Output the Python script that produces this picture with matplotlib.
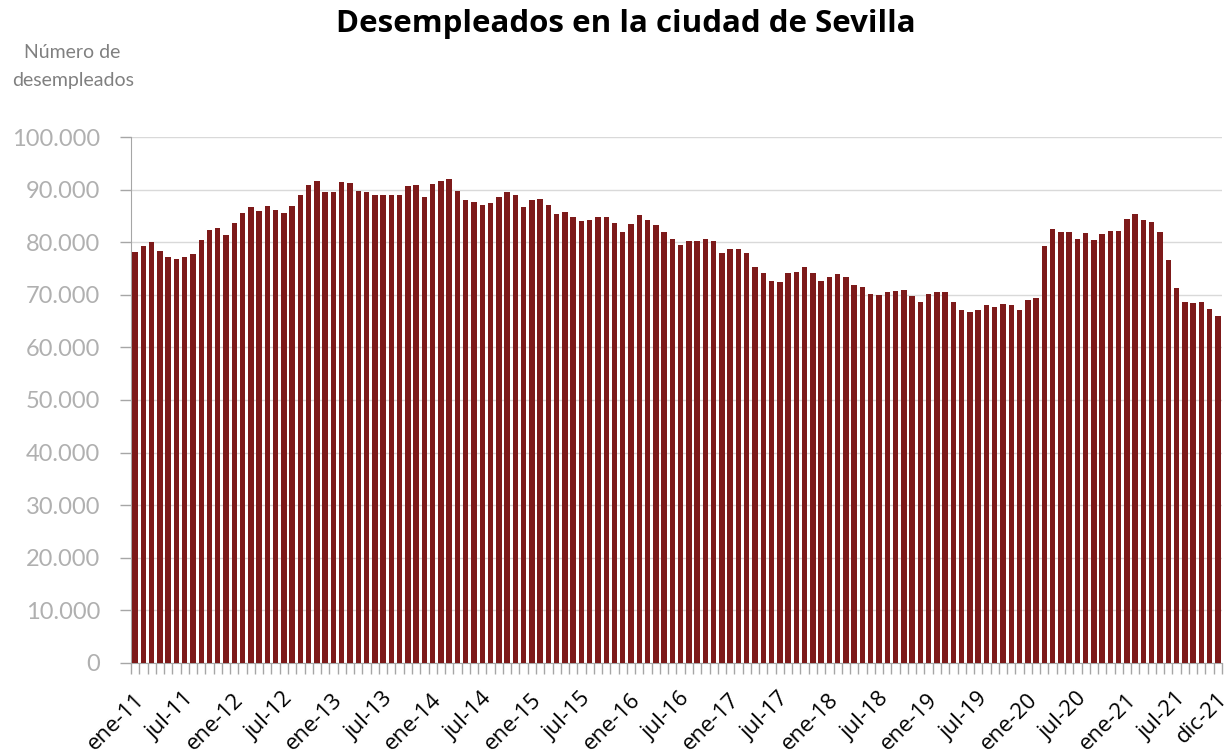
import numpy as np
import matplotlib.pyplot as plt
import matplotlib.transforms as mtransforms
from matplotlib.ticker import FuncFormatter

# Desempleados mensuales, ene-2011 a dic-2021 (miles)
anios = list(range(2011, 2022))
meses = ["ene", "feb", "mar", "abr", "may", "jun", "jul", "ago", "sep", "oct", "nov", "dic"]

desempleados_miles = [
    # 2011
    78.1, 79.3, 80.0, 78.3, 77.1, 76.8, 77.1, 77.8, 80.5, 82.4, 82.7, 81.3,
    # 2012
    83.7, 85.6, 86.6, 85.9, 86.8, 86.1, 85.6, 86.8, 89.0, 90.8, 91.7, 89.5,
    # 2013
    89.5, 91.5, 91.2, 89.8, 89.5, 89.0, 88.9, 88.9, 88.9, 90.6, 90.8, 88.5,
    # 2014
    91.0, 91.7, 92.0, 89.8, 88.1, 87.6, 87.1, 87.4, 88.5, 89.5, 89.0, 86.6,
    # 2015
    88.1, 88.3, 87.1, 85.4, 85.8, 84.7, 84.0, 84.2, 84.7, 84.7, 83.7, 82.0,
    # 2016
    83.5, 85.2, 84.2, 83.2, 82.0, 80.7, 79.5, 80.3, 80.3, 80.7, 80.3, 77.9,
    # 2017
    78.8, 78.8, 77.9, 75.2, 74.1, 72.7, 72.4, 74.1, 74.3, 75.2, 74.1, 72.7,
    # 2018
    73.4, 73.9, 73.4, 71.9, 71.4, 70.2, 70.0, 70.5, 70.7, 71.0, 69.8, 68.6,
    # 2019
    70.2, 70.5, 70.5, 68.6, 67.1, 66.8, 67.1, 68.1, 67.6, 68.3, 68.1, 67.1,
    # 2020
    69.0, 69.3, 79.3, 82.5, 82.0, 82.0, 80.7, 81.8, 80.5, 81.5, 82.2, 82.2,
    # 2021
    84.4, 85.4, 84.2, 83.9, 82.0, 76.6, 71.2, 68.7, 68.5, 68.7, 67.3, 66.0,
]
valores = np.array(desempleados_miles) * 1000

etiquetas = [f"{m}-{str(a)[2:]}" for a in anios for m in meses]

color_barra = "#7d1a1a"
gris = "#a6a6a6"

fig = plt.figure(figsize=(12.31, 7.54), dpi=100)
ax = fig.add_axes([0.1064, 0.1207, 0.8863, 0.6976])

x = np.arange(len(valores))
ax.bar(x, valores, width=0.66, color=color_barra, zorder=3)

ax.set_ylim(0, 100000)
ax.set_xlim(-0.5, len(valores) - 0.5)
ax.set_yticks(np.arange(0, 100001, 10000))
ax.yaxis.set_major_formatter(FuncFormatter(lambda v, p: f"{int(v):,}".replace(",", ".")))
ax.tick_params(axis="y", colors=gris, labelsize=17, length=8, width=1, pad=14)
for t in ax.get_yticklabels():
    t.set_family("Lato")
    t.set_color("#b0b0b0")
ax.grid(axis="y", color="#d9d9d9", linewidth=1, zorder=0)

# etiquetas cada 6 meses y la ultima
idx = list(range(0, len(valores), 6)) + [len(valores) - 1]
ax.set_xticks(idx)
ax.set_xticklabels([etiquetas[i] for i in idx], rotation=45, ha="right",
                   va="center", rotation_mode="anchor", fontsize=16,
                   family="Open Sans")
ax.tick_params(axis="x", length=0, pad=24)
desplaza = mtransforms.ScaledTranslation(6 / 100, 0, fig.dpi_scale_trans)
for t in ax.get_xticklabels():
    t.set_transform(t.get_transform() + desplaza)
ax.set_xticks(np.arange(-0.5, len(valores), 1), minor=True)
ax.tick_params(axis="x", which="minor", length=8, color=gris, width=1)

for s in ["top", "right"]:
    ax.spines[s].set_visible(False)
ax.spines["left"].set_color(gris)
ax.spines["bottom"].set_color(gris)

fig.text(0.508, 0.968, "Desempleados en la ciudad de Sevilla", ha="center", va="center",
         fontsize=22.5, fontweight="bold", family="Open Sans")
fig.text(0.059, 0.912, "Número de\ndesempleados", ha="center", va="center",
         fontsize=14, color="#808080", linespacing=1.75, family="Lato")

fig.savefig("out.png", dpi=100)
